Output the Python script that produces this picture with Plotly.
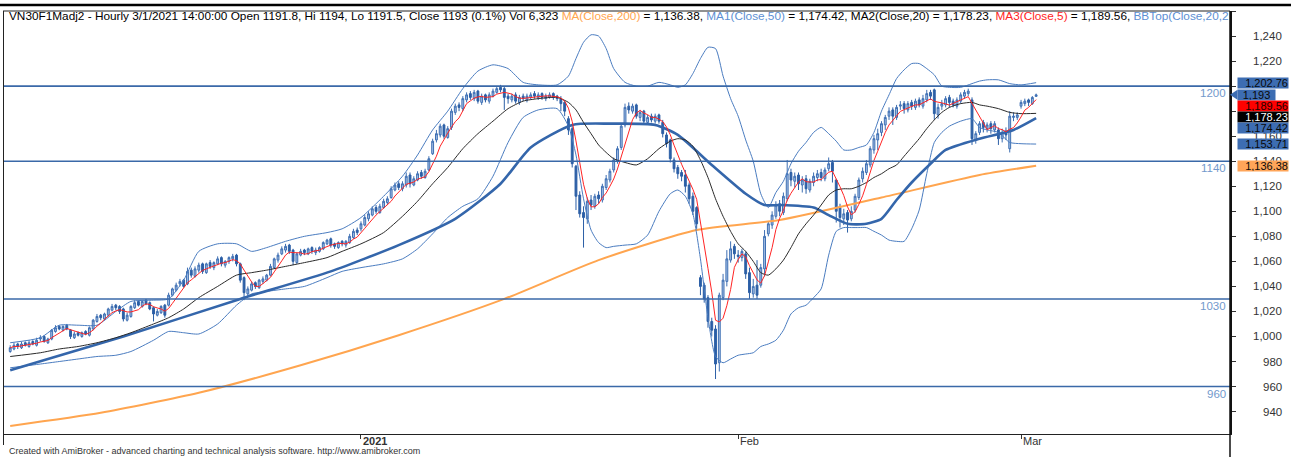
import pandas as pd
import plotly.graph_objects as go

# ---------------- data ----------------
tick_pos = [93, 193, 268]
tick_text = ["2021", "Feb", "Mar"]

opens = [
 988, 990, 994, 991, 995, 992, 996, 993, 998, 1000,
 995, 998, 1004, 1008, 1005, 1009, 1005, 999, 1003, 1000,
 1004, 1001, 1006, 1012, 1017, 1014, 1017, 1021, 1025, 1024,
 1022, 1013, 1016, 1023, 1028, 1024, 1029, 1027, 1023, 1017,
 1019, 1025, 1025, 1033, 1037, 1042, 1045, 1042, 1053, 1048,
 1053, 1058, 1051, 1059, 1055, 1058, 1063, 1057, 1060, 1062,
 1065, 1058, 1047, 1034, 1037, 1043, 1039, 1044, 1045, 1049,
 1055, 1061, 1066, 1069, 1073, 1069, 1059, 1065, 1069, 1066,
 1071, 1067, 1068, 1070, 1074, 1078, 1074, 1071, 1076, 1073,
 1075, 1079, 1085, 1086, 1089, 1094, 1097, 1103, 1099, 1103,
 1107, 1111, 1117, 1122, 1118, 1121, 1129, 1121, 1125, 1131,
 1127, 1133, 1146, 1157, 1161, 1169, 1159, 1167, 1179, 1185,
 1182, 1189, 1194, 1190, 1196, 1187, 1193, 1188, 1192, 1195,
 1199, 1198, 1192, 1189, 1193, 1187, 1192, 1189, 1191, 1194,
 1191, 1194, 1190, 1191, 1194, 1192, 1190, 1187, 1174, 1166,
 1136, 1113, 1099, 1094, 1109, 1104, 1113, 1109, 1119, 1125,
 1133, 1140, 1151, 1169, 1184, 1180, 1185, 1175, 1180, 1171,
 1176, 1172, 1177, 1171, 1161, 1157, 1141, 1135, 1131, 1129,
 1121, 1112, 1103, 1047, 1041, 1031, 1012, 1006, 979, 1031,
 1044, 1061, 1072, 1065, 1063, 1066, 1051, 1034, 1041, 1041,
 1054, 1082, 1089, 1096, 1106, 1099, 1110, 1131, 1124, 1129,
 1121, 1126, 1117, 1123, 1127, 1131, 1126, 1134, 1139, 1125,
 1103, 1094, 1099, 1094, 1101, 1111, 1126, 1131, 1137, 1149,
 1157, 1163, 1169, 1176, 1181, 1175, 1184, 1186, 1181, 1187,
 1183, 1189, 1184, 1189, 1195, 1197, 1177, 1184, 1185, 1191,
 1188, 1184, 1188, 1192, 1194, 1189, 1157, 1163, 1171, 1166,
 1170, 1165, 1165, 1158, 1164, 1150, 1175, 1175, 1184, 1186,
 1189, 1186, 1191.8]

highs = [
 993, 995, 995, 996, 996, 997, 997, 999, 1001, 1001,
 999, 1006, 1009, 1009, 1009, 1010, 1006, 1004, 1004, 1004,
 1005, 1008, 1014, 1018, 1018, 1019, 1023, 1026, 1026, 1025,
 1023, 1019, 1025, 1029, 1029, 1029, 1030, 1028, 1024, 1022,
 1025, 1026, 1035, 1039, 1043, 1046, 1046, 1055, 1055, 1056,
 1059, 1059, 1059, 1061, 1060, 1064, 1064, 1061, 1064, 1066,
 1066, 1059, 1048, 1040, 1044, 1044, 1046, 1048, 1050, 1058,
 1063, 1067, 1072, 1074, 1074, 1070, 1067, 1070, 1070, 1071,
 1072, 1071, 1072, 1076, 1078, 1079, 1075, 1076, 1077, 1077,
 1082, 1086, 1087, 1092, 1097, 1100, 1104, 1105, 1106, 1110,
 1112, 1120, 1123, 1124, 1124, 1131, 1131, 1128, 1132, 1133,
 1134, 1144, 1158, 1165, 1170, 1170, 1168, 1182, 1186, 1187,
 1192, 1195, 1196, 1197, 1197, 1194, 1194, 1195, 1198, 1200,
 1201, 1200, 1194, 1194, 1195, 1193, 1194, 1194, 1195, 1196,
 1195, 1195, 1194, 1195, 1195, 1193, 1192, 1188, 1176, 1168,
 1137, 1116, 1104, 1111, 1113, 1114, 1116, 1122, 1129, 1134,
 1143, 1152, 1170, 1186, 1187, 1186, 1186, 1181, 1181, 1177,
 1178, 1178, 1178, 1173, 1163, 1158, 1143, 1137, 1133, 1133,
 1123, 1115, 1104, 1049, 1043, 1033, 1015, 1009, 1035, 1050,
 1069, 1076, 1074, 1069, 1070, 1068, 1055, 1046, 1061, 1058,
 1085, 1092, 1100, 1108, 1109, 1115, 1141, 1134, 1131, 1131,
 1128, 1129, 1126, 1131, 1133, 1134, 1135, 1143, 1141, 1126,
 1106, 1102, 1101, 1104, 1114, 1127, 1135, 1141, 1152, 1161,
 1166, 1172, 1177, 1183, 1183, 1185, 1188, 1188, 1188, 1189,
 1190, 1191, 1193, 1197, 1197, 1198, 1186, 1189, 1192, 1193,
 1190, 1191, 1195, 1197, 1198, 1191, 1164, 1172, 1173, 1171,
 1172, 1172, 1167, 1166, 1167, 1180, 1179, 1179, 1189, 1190,
 1190, 1192, 1194]

lows = [
 987, 989, 990, 990, 992, 991, 993, 992, 996, 995,
 994, 997, 1003, 1005, 1004, 1005, 998, 998, 1000, 999,
 1001, 1000, 1005, 1011, 1013, 1013, 1016, 1020, 1021, 1018,
 1012, 1012, 1015, 1022, 1024, 1023, 1025, 1021, 1012, 1016,
 1018, 1015, 1024, 1032, 1036, 1040, 1039, 1041, 1047, 1047,
 1051, 1050, 1050, 1054, 1053, 1057, 1056, 1055, 1058, 1060,
 1056, 1043, 1029, 1032, 1036, 1038, 1038, 1042, 1044, 1048,
 1054, 1059, 1065, 1067, 1066, 1057, 1058, 1064, 1065, 1065,
 1066, 1065, 1067, 1069, 1073, 1071, 1070, 1070, 1072, 1071,
 1074, 1078, 1081, 1084, 1088, 1092, 1096, 1098, 1098, 1102,
 1105, 1110, 1116, 1117, 1116, 1119, 1119, 1120, 1124, 1126,
 1126, 1132, 1145, 1155, 1159, 1158, 1158, 1165, 1177, 1180,
 1180, 1187, 1189, 1188, 1186, 1185, 1187, 1186, 1191, 1194,
 1195, 1181, 1186, 1187, 1186, 1185, 1188, 1187, 1189, 1190,
 1189, 1189, 1188, 1190, 1189, 1188, 1180, 1176, 1161, 1135,
 1101, 1095, 1071, 1090, 1101, 1102, 1106, 1107, 1117, 1123,
 1131, 1138, 1149, 1167, 1178, 1178, 1174, 1172, 1170, 1169,
 1171, 1170, 1170, 1159, 1151, 1139, 1131, 1126, 1124, 1115,
 1106, 1097, 1086, 1033, 1027, 1007, 1000, 966, 972, 1029,
 1040, 1059, 1062, 1059, 1060, 1046, 1030, 1031, 1030, 1039,
 1048, 1080, 1086, 1094, 1096, 1097, 1108, 1120, 1119, 1117,
 1115, 1114, 1115, 1120, 1124, 1124, 1124, 1132, 1123, 1091,
 1087, 1089, 1083, 1092, 1099, 1109, 1123, 1129, 1135, 1146,
 1149, 1160, 1165, 1173, 1169, 1173, 1181, 1178, 1179, 1181,
 1181, 1183, 1182, 1187, 1189, 1173, 1174, 1181, 1183, 1183,
 1183, 1182, 1186, 1190, 1192, 1153, 1154, 1161, 1163, 1163,
 1162, 1163, 1153, 1155, 1157, 1147, 1172, 1173, 1182, 1184,
 1184, 1185, 1191.5]

closes = [
 991, 993, 992, 994, 993, 995, 994, 997, 999, 996,
 998, 1005, 1007, 1006, 1008, 1006, 1000, 1002, 1001, 1003,
 1002, 1007, 1013, 1016, 1015, 1018, 1022, 1024, 1023, 1020,
 1014, 1017, 1024, 1027, 1025, 1028, 1026, 1022, 1018, 1020,
 1024, 1017, 1033, 1038, 1041, 1044, 1040, 1052, 1049, 1054,
 1057, 1052, 1058, 1056, 1059, 1062, 1058, 1060, 1063, 1064,
 1058, 1045, 1035, 1038, 1042, 1040, 1045, 1046, 1049, 1056,
 1062, 1065, 1070, 1072, 1068, 1060, 1066, 1068, 1067, 1070,
 1068, 1069, 1071, 1075, 1077, 1073, 1072, 1075, 1074, 1076,
 1080, 1084, 1083, 1090, 1095, 1098, 1102, 1100, 1104, 1108,
 1110, 1118, 1121, 1119, 1122, 1128, 1122, 1126, 1130, 1128,
 1132, 1142, 1156, 1162, 1168, 1160, 1166, 1180, 1184, 1183,
 1190, 1193, 1191, 1195, 1188, 1192, 1189, 1193, 1196, 1198,
 1197, 1191, 1190, 1192, 1188, 1191, 1190, 1192, 1193, 1192,
 1193, 1191, 1192, 1193, 1191, 1190, 1186, 1180, 1165, 1138,
 1112, 1098, 1095, 1108, 1105, 1112, 1110, 1120, 1126, 1132,
 1141, 1150, 1168, 1183, 1181, 1184, 1176, 1179, 1172, 1175,
 1173, 1176, 1172, 1162, 1154, 1142, 1134, 1130, 1128, 1120,
 1110, 1100, 1090, 1040, 1030, 1012, 1005, 978, 1033, 1045,
 1062, 1070, 1066, 1064, 1068, 1050, 1035, 1040, 1033, 1055,
 1080, 1090, 1097, 1105, 1100, 1112, 1130, 1125, 1128, 1122,
 1125, 1118, 1124, 1128, 1130, 1127, 1133, 1138, 1132, 1100,
 1095, 1098, 1093, 1100, 1112, 1125, 1132, 1138, 1150, 1158,
 1162, 1170, 1175, 1180, 1176, 1183, 1185, 1182, 1186, 1184,
 1188, 1185, 1190, 1194, 1192, 1178, 1183, 1186, 1190, 1187,
 1185, 1189, 1193, 1195, 1196, 1158, 1162, 1170, 1167, 1169,
 1166, 1170, 1158, 1163, 1161, 1176, 1176, 1177, 1187, 1188,
 1187, 1191, 1193]

# indicator lines read at sample bars
bb_idx = [0, 8, 13, 18, 23, 28, 32, 38, 42, 46, 50, 55, 60, 64, 68, 73, 78, 84, 88, 93,
          99, 104, 108, 112, 116, 120, 124, 128, 132, 136, 140, 145, 148, 150, 152, 154,
          156, 158, 160, 163, 166, 169, 172, 175, 177, 179, 181, 183, 185, 187, 189, 191,
          193, 195, 197, 199, 201, 203, 205, 207, 209, 211, 213, 215, 217, 219, 221, 223,
          225, 227, 229, 231, 233, 235, 237, 239, 241, 243, 245, 247, 249, 252, 255, 257,
          259, 262, 265, 268, 272]
ma20_vals = [984, 987, 990, 992, 995, 999, 1003, 1010, 1015, 1022, 1031, 1040, 1049, 1051,
             1053, 1056, 1059, 1063, 1068, 1074, 1083, 1096, 1108, 1122, 1135, 1150, 1162,
             1172, 1182, 1188, 1190, 1191, 1187, 1181, 1171, 1162, 1153, 1147, 1142, 1139,
             1137, 1142, 1150, 1156, 1158, 1157, 1152, 1141, 1127, 1110, 1096, 1084, 1074,
             1068, 1060, 1051, 1049, 1054, 1061, 1071, 1082, 1090, 1097, 1105, 1113, 1117,
             1118, 1118, 1120, 1123, 1127, 1130, 1134, 1137, 1144, 1151, 1158, 1166, 1173,
             1179, 1183, 1186, 1187, 1185, 1184, 1182, 1179, 1178, 1178.23]
bbtop_vals = [995, 999, 1009, 1009, 1009, 1020, 1028, 1029, 1030, 1045, 1068, 1074, 1074,
              1068, 1071, 1076, 1080, 1083, 1086, 1095, 1112, 1128, 1145, 1165, 1180, 1198,
              1212, 1217, 1214, 1203, 1201, 1201, 1208, 1222, 1235, 1241, 1240, 1230, 1214,
              1203, 1200, 1200, 1203, 1201, 1199, 1201, 1210, 1222, 1231, 1230, 1208, 1190,
              1176, 1157, 1140, 1114, 1103, 1115, 1124, 1138, 1148, 1155, 1163, 1167, 1162,
              1156, 1149, 1149, 1151, 1153, 1163, 1180, 1193, 1206, 1213, 1218, 1218, 1214,
              1209, 1200, 1199, 1199, 1202, 1204, 1205, 1205, 1202, 1201, 1202.76]
bbbot_vals = [975, 978, 980, 982, 984, 985, 988, 997, 1004, 1003, 1002, 1010, 1025, 1034,
              1036, 1038, 1040, 1047, 1052, 1055, 1058, 1062, 1070, 1082, 1095, 1104, 1110,
              1128, 1155, 1175, 1181, 1182, 1168, 1145, 1110, 1085, 1075, 1071, 1072, 1073,
              1074, 1081, 1100, 1114, 1117, 1112, 1098, 1062, 1015, 984, 979, 982, 985, 986,
              987, 992, 994, 997, 1005, 1018, 1023, 1025, 1031, 1038, 1065, 1084, 1087, 1087,
              1087, 1087, 1084, 1081, 1077, 1076, 1076, 1086, 1101, 1130, 1155, 1163, 1168,
              1172, 1174, 1167, 1165, 1163, 1155, 1154, 1153.71]

ma50_idx = [0, 30, 61, 85, 103, 118, 130, 138, 149, 159, 171, 177, 186, 195, 200, 204, 213,
            217, 222, 227, 231, 235, 239, 244, 248, 257, 266, 272]
ma50_vals = [973, 1000, 1030, 1052, 1073, 1094, 1122, 1151, 1169, 1170, 1169, 1161, 1137,
             1114, 1105, 1105, 1103, 1097, 1090, 1090, 1094, 1109, 1123, 1138, 1149, 1158,
             1165, 1174.42]

ma200_idx = [0, 24, 50, 77, 103, 131, 156, 182, 204, 231, 257, 272]
ma200_vals = [928.5, 939, 955, 977, 1001, 1030, 1061, 1085, 1093, 1111, 1129, 1136.38]

levels = [1200, 1140, 1030, 960]
ytick_vals = list(range(940, 1241, 20))
ytick_hidden = [1180, 1200]   # fully covered by the value boxes in the original

last_labels = [  # (text, value, bg, fg)
    ("1,202.76", 1202.76, "#3d6db2", "#0a0a0a"),
    ("1,193", 1193.0, "#3d6db2", "#0a0a0a"),
    ("1,189.56", 1189.56, "#ff0000", "#1a0000"),
    ("1,178.23", 1178.23, "#000000", "#ffffff"),
    ("1,174.42", 1174.42, "#3d6db2", "#0a0a0a"),
    ("1,153.71", 1153.71, "#3d6db2", "#0a0a0a"),
    ("1,136.38", 1136.38, "#ffa559", "#0a0a0a"),
]

# ---------------- geometry ----------------
W, H = 1291, 457
PL, PR, PT, PB = 3, 1230, 11, 434
YMIN, YMAX = 922.1, 1260.0
XMIN, XMAX = -1.91, 323.4


def pxx(px):
    return (px - PL) / (PR - PL)


def pxy(py):
    return (PB - py) / (PB - PT)


def v2py(v):
    return PT + (YMAX - v) / (YMAX - YMIN) * (PB - PT)


def py2v(py):
    return YMAX - (py - PT) / (PB - PT) * (YMAX - YMIN)


FONT = "Arial, Liberation Sans, sans-serif"
n = len(closes)
xs = list(range(n))
ma5 = pd.Series(closes).rolling(5, min_periods=1).mean().tolist()

fig = go.Figure()

fig.add_trace(go.Candlestick(
    x=xs, open=opens, high=highs, low=lows, close=closes,
    increasing=dict(line=dict(color="#3e6fb3", width=1), fillcolor="#a9c2e6"),
    decreasing=dict(line=dict(color="#2c5fa6", width=1), fillcolor="#2c5fa6"),
    whiskerwidth=0, showlegend=False, hoverinfo="skip"))

fig.add_trace(go.Scatter(x=ma200_idx, y=ma200_vals, mode="lines", line=dict(color="#ffa54f", width=2, shape="spline", smoothing=0.6), showlegend=False, hoverinfo="skip"))
fig.add_trace(go.Scatter(x=bb_idx, y=bbtop_vals, mode="lines", line=dict(color="#4a7cc0", width=1, shape="spline", smoothing=0.6), showlegend=False, hoverinfo="skip"))
fig.add_trace(go.Scatter(x=bb_idx, y=bbbot_vals, mode="lines", line=dict(color="#4a7cc0", width=1, shape="spline", smoothing=0.6), showlegend=False, hoverinfo="skip"))
fig.add_trace(go.Scatter(x=ma50_idx, y=ma50_vals, mode="lines", line=dict(color="#3466ab", width=2.6, shape="spline", smoothing=0.6), showlegend=False, hoverinfo="skip"))
fig.add_trace(go.Scatter(x=bb_idx, y=ma20_vals, mode="lines", line=dict(color="#2a2a2a", width=1, shape="spline", smoothing=0.6), showlegend=False, hoverinfo="skip"))
fig.add_trace(go.Scatter(x=xs, y=ma5, mode="lines", line=dict(color="#ff2424", width=1), showlegend=False, hoverinfo="skip"))

shapes = []
annotations = []

# horizontal study lines
for lv in levels:
    shapes.append(dict(type="line", xref="paper", yref="y", x0=0, x1=1, y0=lv, y1=lv,
                       line=dict(color="#3a69a8", width=1.6), layer="above"))
    annotations.append(dict(xref="paper", yref="y", x=pxx(1228), y=lv, yshift=-7,
                            text=str(lv), showarrow=False, xanchor="right", yanchor="middle",
                            font=dict(family=FONT, size=11.5, color="#7399cc")))

# frame
shapes.append(dict(type="line", xref="paper", yref="paper", x0=pxx(0), x1=pxx(1291),
                   y0=pxy(5), y1=pxy(5), line=dict(color="#000000", width=2.5)))
shapes.append(dict(type="line", xref="paper", yref="paper", x0=pxx(PL), x1=pxx(PR),
                   y0=1, y1=1, line=dict(color="#222222", width=1)))
shapes.append(dict(type="line", xref="paper", yref="paper", x0=pxx(3.5), x1=pxx(3.5),
                   y0=pxy(445), y1=1, line=dict(color="#222222", width=1)))
shapes.append(dict(type="line", xref="paper", yref="paper", x0=1, x1=1,
                   y0=pxy(457), y1=1, line=dict(color="#111111", width=1.5)))

# y tick labels (right aligned, like the original)
for v in ytick_vals:
    if v in ytick_hidden:
        continue
    annotations.append(dict(xref="paper", yref="y", x=pxx(1284), y=v,
                            text=f"{v:,}", showarrow=False, xanchor="right", yanchor="middle",
                            font=dict(family=FONT, size=11.5, color="#333333")))

# x labels
for tp, tt in zip(tick_pos, tick_text):
    txt = f"<b>{tt}</b>" if tt == "2021" else tt
    annotations.append(dict(xref="x", yref="paper", x=tp, y=pxy(434), text=txt,
                            showarrow=False, xanchor="left", yanchor="top", xshift=1,
                            borderpad=0, font=dict(family=FONT, size=11, color="#333333")))

# last-value boxes, stacked so that they don't overlap
prev = -1e9
for text, val, bg, fg in last_labels:
    yc = max(v2py(val), prev + 11.2)
    prev = yc
    if text == "1,193":
        annotations.append(dict(xref="paper", yref="y", x=pxx(1237), y=py2v(yc), text=text,
                                showarrow=False, xanchor="left", yanchor="middle",
                                bgcolor=bg, width=37, height=10, borderpad=0, align="center",
                                font=dict(family=FONT, size=11, color=fg)))
        shapes.append(dict(type="path", xref="paper", yref="y",
                           path=f"M {pxx(1230)} {py2v(yc)} L {pxx(1237.5)} {py2v(yc - 5)} L {pxx(1237.5)} {py2v(yc + 5)} Z",
                           fillcolor=bg, line=dict(width=0), layer="above"))
    else:
        annotations.append(dict(xref="paper", yref="y", x=pxx(1237), y=py2v(yc), text=text,
                                showarrow=False, xanchor="left", yanchor="middle",
                                bgcolor=bg, width=50, height=10, borderpad=0, align="right",
                                font=dict(family=FONT, size=11, color=fg)))

# title line
title_html = ("VN30F1Madj2 - Hourly 3/1/2021 14:00:00 Open 1191.8, Hi 1194, Lo 1191.5, Close 1193 (0.1%) Vol 6,323 "
              "<span style='color:#ffa54f'>MA(Close,200)</span> = 1,136.38, "
              "<span style='color:#5d8fd3'>MA1(Close,50)</span> = 1,174.42, MA2(Close,20) = 1,178.23, "
              "<span style='color:#ff2424'>MA3(Close,5)</span> = 1,189.56, "
              "<span style='color:#5d8fd3'>BBTop(Close,20,2</span>")
annotations.append(dict(xref="paper", yref="paper", x=pxx(7), y=pxy(16), text=title_html,
                        showarrow=False, xanchor="left", yanchor="middle",
                        font=dict(family=FONT, size=11.8, color="#000000")))

# footer
annotations.append(dict(xref="paper", yref="paper", x=pxx(8), y=pxy(457), yanchor="bottom",
                        text="Created with AmiBroker - advanced charting and technical analysis software. http://www.amibroker.com",
                        showarrow=False, xanchor="left", borderpad=0,
                        font=dict(family=FONT, size=9, color="#333333")))

fig.update_layout(
    width=W, height=H,
    margin=dict(l=PL, r=W - PR, t=PT, b=H - PB, pad=0),
    paper_bgcolor="white", plot_bgcolor="white",
    showlegend=False,
    shapes=shapes, annotations=annotations,
    xaxis=dict(range=[XMIN, XMAX], showgrid=False, zeroline=False, showline=True,
               linecolor="#222222", linewidth=1, ticks="outside", ticklen=4, tickcolor="#333333",
               tickvals=tick_pos, showticklabels=False, rangeslider=dict(visible=False),
               fixedrange=True),
    yaxis=dict(range=[YMIN, YMAX], side="right", showgrid=False, zeroline=False, showline=True,
               linecolor="#111111", linewidth=1.5, ticks="outside", ticklen=4, tickcolor="#333333",
               tick0=0, dtick=20, showticklabels=False, fixedrange=True),
)

fig.write_html("out.html", config={"displayModeBar": False},
               post_script="document.body.style.margin='0px';document.body.style.padding='0px';document.body.style.overflow='hidden';")
